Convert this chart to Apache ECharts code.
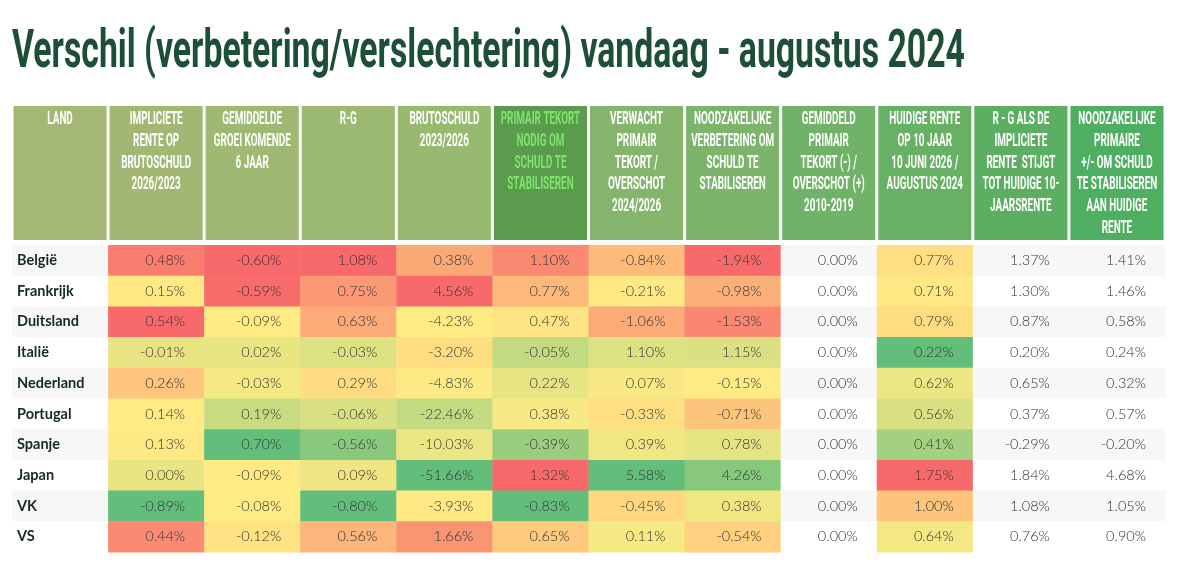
<!DOCTYPE html>
<html>
<head>
<meta charset="utf-8">
<script src="https://cdn.jsdelivr.net/npm/echarts@6/dist/echarts.min.js"></script>
<style>
  html, body { margin: 0; padding: 0; background: #fff; }
  #chart { width: 1180px; height: 567px; }
</style>
</head>
<body>
<div id="chart"></div>
<script>
var title = 'Verschil (verbetering/verslechtering) vandaag - augustus 2024';

var landen = ['België', 'Frankrijk', 'Duitsland', 'Italië', 'Nederland', 'Portugal', 'Spanje', 'Japan', 'VK', 'VS'];

var koppen = [
  'LAND',
  'IMPLICIETE\nRENTE OP\nBRUTOSCHULD\n2026/2023',
  'GEMIDDELDE\nGROEI KOMENDE\n6 JAAR',
  'R-G',
  'BRUTOSCHULD\n2023/2026',
  'PRIMAIR TEKORT\nNODIG OM\nSCHULD TE\nSTABILISEREN',
  'VERWACHT\nPRIMAIR\nTEKORT /\nOVERSCHOT\n2024/2026',
  'NOODZAKELIJKE\nVERBETERING OM\nSCHULD TE\nSTABILISEREN',
  'GEMIDDELD\nPRIMAIR\nTEKORT (-) /\nOVERSCHOT (+)\n2010-2019',
  'HUIDIGE RENTE\nOP 10 JAAR\n10 JUNI 2026 /\nAUGUSTUS 2024',
  'R - G ALS DE\nIMPLICIETE\nRENTE  STIJGT\nTOT HUIDIGE 10-\nJAARSRENTE',
  'NOODZAKELIJKE\nPRIMAIRE\n+/- OM SCHULD\nTE STABILISEREN\nAAN HUIDIGE\nRENTE'
];

// waarden in %
var implicieteRente = [0.48, 0.15, 0.54, -0.01, 0.26, 0.14, 0.13, 0.00, -0.89, 0.44];
var groei = [-0.60, -0.59, -0.09, 0.02, -0.03, 0.19, 0.70, -0.09, -0.08, -0.12];
var rMinG = [1.08, 0.75, 0.63, -0.03, 0.29, -0.06, -0.56, 0.09, -0.80, 0.56];
var brutoschuld = [0.38, 4.56, -4.23, -3.20, -4.83, -22.46, -10.03, -51.66, -3.93, 1.66];
var primairNodig = [1.10, 0.77, 0.47, -0.05, 0.22, 0.38, -0.39, 1.32, -0.83, 0.65];
var verwachtPrimair = [-0.84, -0.21, -1.06, 1.10, 0.07, -0.33, 0.39, 5.58, -0.45, 0.11];
var verbetering = [-1.94, -0.98, -1.53, 1.15, -0.15, -0.71, 0.78, 4.26, 0.38, -0.54];
var gemiddeldPrimair = [0.00, 0.00, 0.00, 0.00, 0.00, 0.00, 0.00, 0.00, 0.00, 0.00];
var huidigeRente = [0.77, 0.71, 0.79, 0.22, 0.62, 0.56, 0.41, 1.75, 1.00, 0.64];
var rMinGHuidig = [1.37, 1.30, 0.87, 0.20, 0.65, 0.37, -0.29, 1.84, 1.08, 0.76];
var primairHuidig = [1.41, 1.46, 0.58, 0.24, 0.32, 0.57, -0.20, 4.68, 1.05, 0.90];

var kolommen = [implicieteRente, groei, rMinG, brutoschuld, primairNodig, verwachtPrimair,
  verbetering, gemiddeldPrimair, huidigeRente, rMinGHuidig, primairHuidig];

// kleurschalen (kolomindex 0-based in kolommen), hoog = rood of groen
var schalen = [
  { cols: [0], hoogRood: true },
  { cols: [1], hoogRood: false },
  { cols: [2], hoogRood: true },
  { cols: [3], hoogRood: true },
  { cols: [4], hoogRood: true },
  { cols: [5, 6], hoogRood: false },
  { cols: [8], hoogRood: true }
];

var kopKleuren = ['#a4b774', '#a2b773', '#9fb872', '#9bb971', '#97b970', '#5a9b4d',
  '#85b56d', '#7bb46a', '#70b267', '#66b164', '#5caf62', '#4eae61'];

var ROOD = [248, 105, 107], GEEL = [255, 235, 132], GROEN = [99, 190, 123];

function percentiel(arr, p) {
  var s = arr.slice().sort(function (a, b) { return a - b; });
  var pos = (s.length - 1) * p, lo = Math.floor(pos), hi = Math.ceil(pos);
  return s[lo] + (s[hi] - s[lo]) * (pos - lo);
}
function mix(a, b, t) {
  return 'rgb(' + a.map(function (v, i) { return Math.round(v + (b[i] - v) * t); }).join(',') + ')';
}

// kleur per cel
var celKleur = {};
schalen.forEach(function (sc) {
  var alle = [];
  sc.cols.forEach(function (c) { alle = alle.concat(kolommen[c]); });
  var mn = Math.min.apply(null, alle), mx = Math.max.apply(null, alle), md = percentiel(alle, 0.5);
  var laag = sc.hoogRood ? GROEN : ROOD, hoog = sc.hoogRood ? ROOD : GROEN;
  sc.cols.forEach(function (c) {
    kolommen[c].forEach(function (v, r) {
      var kleur;
      if (v >= md) kleur = mix(GEEL, hoog, mx === md ? 0 : (v - md) / (mx - md));
      else kleur = mix(GEEL, laag, (md - v) / (md - mn));
      celKleur[(c + 1) + '_' + r] = kleur;
    });
  });
});

var cellen = [];
landen.forEach(function (land, r) {
  cellen.push({ value: [0, r], tekst: land });
  kolommen.forEach(function (kol, c) {
    cellen.push({ value: [c + 1, r], tekst: kol[r].toFixed(2) + '%' });
  });
});
var kopCellen = koppen.map(function (k, i) { return { value: [i, 0], tekst: k }; });

var xCats = koppen.map(function (k, i) { return 'k' + i; });

function tekenCel(params, api) {
  var item = cellen[params.dataIndex];
  var c = item.value[0], r = item.value[1];
  var p = api.coord([c, r]);
  var s = api.size([1, 1]);
  var x = p[0] - s[0] / 2, y = p[1] - s[1] / 2;
  var fill = celKleur[c + '_' + r] || (r % 2 === 0 ? '#f7f7f7' : '#ffffff');
  var kinderen = [{
    type: 'rect',
    shape: { x: x, y: y, width: s[0] + 0.5, height: s[1] + 0.5 },
    style: { fill: fill }
  }];
  if (c === 0) {
    kinderen.push({
      type: 'text',
      style: {
        text: item.tekst, x: x + 5, y: p[1], align: 'left', verticalAlign: 'middle',
        fontFamily: 'Lato', fontWeight: 'bold', fontSize: 14.5, fill: '#15282a'
      }
    });
  } else {
    kinderen.push({
      type: 'text',
      style: {
        text: item.tekst, x: x + s[0] - 19, y: p[1], align: 'right', verticalAlign: 'middle',
        fontFamily: 'Lato', fontWeight: 300, fontSize: 14.5, fill: '#333333'
      }
    });
  }
  return { type: 'group', children: kinderen };
}

function tekenKop(params, api) {
  var item = kopCellen[params.dataIndex];
  var c = item.value[0];
  var p = api.coord([c, 0]);
  var s = api.size([1, 1]);
  var x = p[0] - s[0] / 2, y = p[1] - s[1] / 2;
  return {
    type: 'group',
    children: [{
      type: 'rect',
      shape: { x: x + 1.5, y: y, width: s[0] - 3, height: s[1] },
      style: { fill: kopKleuren[c] }
    }, {
      type: 'text',
      x: p[0], y: y + 3,
      scaleX: 0.55,
      style: {
        text: item.tekst, x: 0, y: 0, align: 'center', verticalAlign: 'top',
        fontFamily: 'Roboto', fontWeight: 'bold', fontSize: 18, lineHeight: 21.7,
        fill: c === 5 ? '#7de36b' : '#ffffff'
      }
    }]
  };
}

// titel breedte passend maken
var cv = document.createElement('canvas').getContext('2d');
cv.font = 'bold 53px Roboto';
var titelSchaal = 953 / cv.measureText(title).width;

var chart = echarts.init(document.getElementById('chart'), null, { renderer: 'canvas' });
chart.setOption({
  backgroundColor: '#ffffff',
  animation: false,
  graphic: [{
    type: 'text',
    x: 12, y: 27,
    scaleX: titelSchaal,
    style: {
      text: title, fontFamily: 'Roboto', fontWeight: 'bold', fontSize: 53,
      fill: '#1d4f38', verticalAlign: 'top'
    }
  }],
  grid: [
    { left: 12, right: 15, top: 245, height: 307 },
    { left: 12, right: 15, top: 106, height: 134 }
  ],
  xAxis: [
    { type: 'category', data: xCats, gridIndex: 0, show: false },
    { type: 'category', data: xCats, gridIndex: 1, show: false }
  ],
  yAxis: [
    { type: 'category', data: landen, gridIndex: 0, inverse: true, show: false },
    { type: 'category', data: ['kop'], gridIndex: 1, show: false }
  ],
  series: [{
    type: 'custom',
    xAxisIndex: 0, yAxisIndex: 0,
    renderItem: tekenCel,
    data: cellen,
    silent: true
  }, {
    type: 'custom',
    xAxisIndex: 1, yAxisIndex: 1,
    renderItem: tekenKop,
    data: kopCellen,
    silent: true
  }]
});
</script>
</body>
</html>
